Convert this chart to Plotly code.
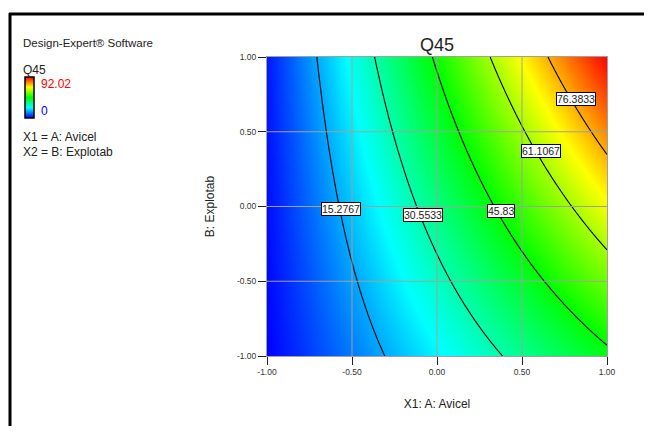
import numpy as np
import plotly.graph_objects as go

# Model coefficients (coded factors): Q45 = b0 + bA*A + bB*B + bAB*A*B
coef_names = ["b0", "bA", "bB", "bAB"]
coef_values = [34.55, 33.5, 12.5, 11.45]
z_min, z_max = 0.0, 92.02

contour_levels = [15.2767, 30.5533, 45.83, 61.1067, 76.3833]
label_texts = ["15.2767", "30.5533", "45.83", "61.1067", "76.3833"]
label_x = [-0.566, -0.082, 0.376, 0.61, 0.818]
label_y = [-0.017, -0.059, -0.029, 0.368, 0.718]

tick_vals = [-1.0, -0.5, 0.0, 0.5, 1.0]
tick_text = ["-1.00", "-0.50", "0.00", "0.50", "1.00"]

b = dict(zip(coef_names, coef_values))
a = np.linspace(-1, 1, 241)
bb = np.linspace(-1, 1, 241)
A, B = np.meshgrid(a, bb)
Z = b["b0"] + b["bA"] * A + b["bB"] * B + b["bAB"] * A * B

cscale = [[0, "rgb(0,0,255)"], [0.25, "rgb(0,255,255)"], [0.5, "rgb(0,255,0)"],
          [0.75, "rgb(255,255,0)"], [1, "rgb(255,0,0)"]]

OFF = 8  # page body margin
W, H = 636, 418
L, R, T, Bm = 259, 37, 49, 70
pw, ph = W - L - R, H - T - Bm
def px(x): return (x - OFF - L) / pw
def py(y): return (H - Bm - (y - OFF)) / ph

FONT = "Liberation Sans, Arial"

fig = go.Figure()
fig.add_trace(go.Heatmap(
    x=a, y=bb, z=Z, colorscale=cscale, zmin=z_min, zmax=z_max, zsmooth="best",
    colorbar=dict(x=px(25), xanchor="left", y=py(97.5), yanchor="middle",
                  thickness=9, thicknessmode="pixels", len=41, lenmode="pixels",
                  xpad=0, ypad=0, outlinecolor="black", outlinewidth=1.5,
                  showticklabels=False, ticks=""),
    hoverinfo="skip"))
fig.add_trace(go.Contour(
    x=a, y=bb, z=Z, contours=dict(start=contour_levels[0], end=contour_levels[-1],
                                  size=contour_levels[1] - contour_levels[0], coloring="none"),
    line=dict(color="black", width=1.1), showscale=False, hoverinfo="skip"))

shapes = []
for v in tick_vals[1:-1]:
    shapes.append(dict(type="line", xref="x", yref="paper", x0=v, x1=v, y0=0, y1=1,
                       line=dict(color="#a0a0a0", width=1), layer="above"))
    shapes.append(dict(type="line", xref="paper", yref="y", x0=0, x1=1, y0=v, y1=v,
                       line=dict(color="#a0a0a0", width=1), layer="above"))
# outer frame: left and top edges
shapes.append(dict(type="line", xref="paper", yref="paper", x0=px(10), x1=px(10),
                   y0=py(480), y1=py(13), line=dict(color="black", width=3), layer="above"))
shapes.append(dict(type="line", xref="paper", yref="paper", x0=px(9), x1=px(700),
                   y0=py(14), y1=py(14), line=dict(color="black", width=3), layer="above"))

annotations = []
for t, x, y in zip(label_texts, label_x, label_y):
    annotations.append(dict(x=x, y=y, xref="x", yref="y", text=t, showarrow=False,
                            font=dict(family=FONT, size=10.5, color="#222"),
                            bgcolor="white", bordercolor="black", borderwidth=1, borderpad=0))

def side(text, xpix, ypix, size=12, color="#222"):
    annotations.append(dict(x=px(xpix), y=py(ypix), xref="paper", yref="paper", text=text,
                            showarrow=False, xanchor="left", yanchor="middle",
                            font=dict(family=FONT, size=size, color=color)))

side("Design-Expert® Software", 21, 43, size=11.5)
side("Q45", 21, 70)
side("92.02", 39, 84, color="red")
side("0", 39, 111, color="blue")
side("X1 = A: Avicel", 21, 137)
side("X2 = B: Explotab", 21, 152)

axis_common = dict(range=[-1, 1], tickvals=tick_vals, ticktext=tick_text, showgrid=False,
                   zeroline=False, showline=True, mirror=True, linecolor="#a0a0a0", linewidth=1,
                   ticks="outside", ticklen=8, tickcolor="#222", tickwidth=1,
                   tickfont=dict(family=FONT, size=8.5, color="#333"))

fig.update_layout(
    width=W, height=H, margin=dict(l=L, r=R, t=T, b=Bm),
    paper_bgcolor="white", plot_bgcolor="white",
    title=dict(text="Q45", xref="container", yref="container", x=(437 - OFF) / W,
               xanchor="center", y=1 - (45 - OFF) / H, yanchor="middle",
               font=dict(family=FONT, size=18, color="#222")),
    xaxis=dict(**axis_common, title=dict(text="X1: A: Avicel", standoff=23,
               font=dict(family=FONT, size=12, color="#222"))),
    yaxis=dict(**axis_common, title=dict(text="B: Explotab", standoff=19,
               font=dict(family=FONT, size=12, color="#222"))),
    shapes=shapes, annotations=annotations, showlegend=False)

fig.write_html("out.html")
